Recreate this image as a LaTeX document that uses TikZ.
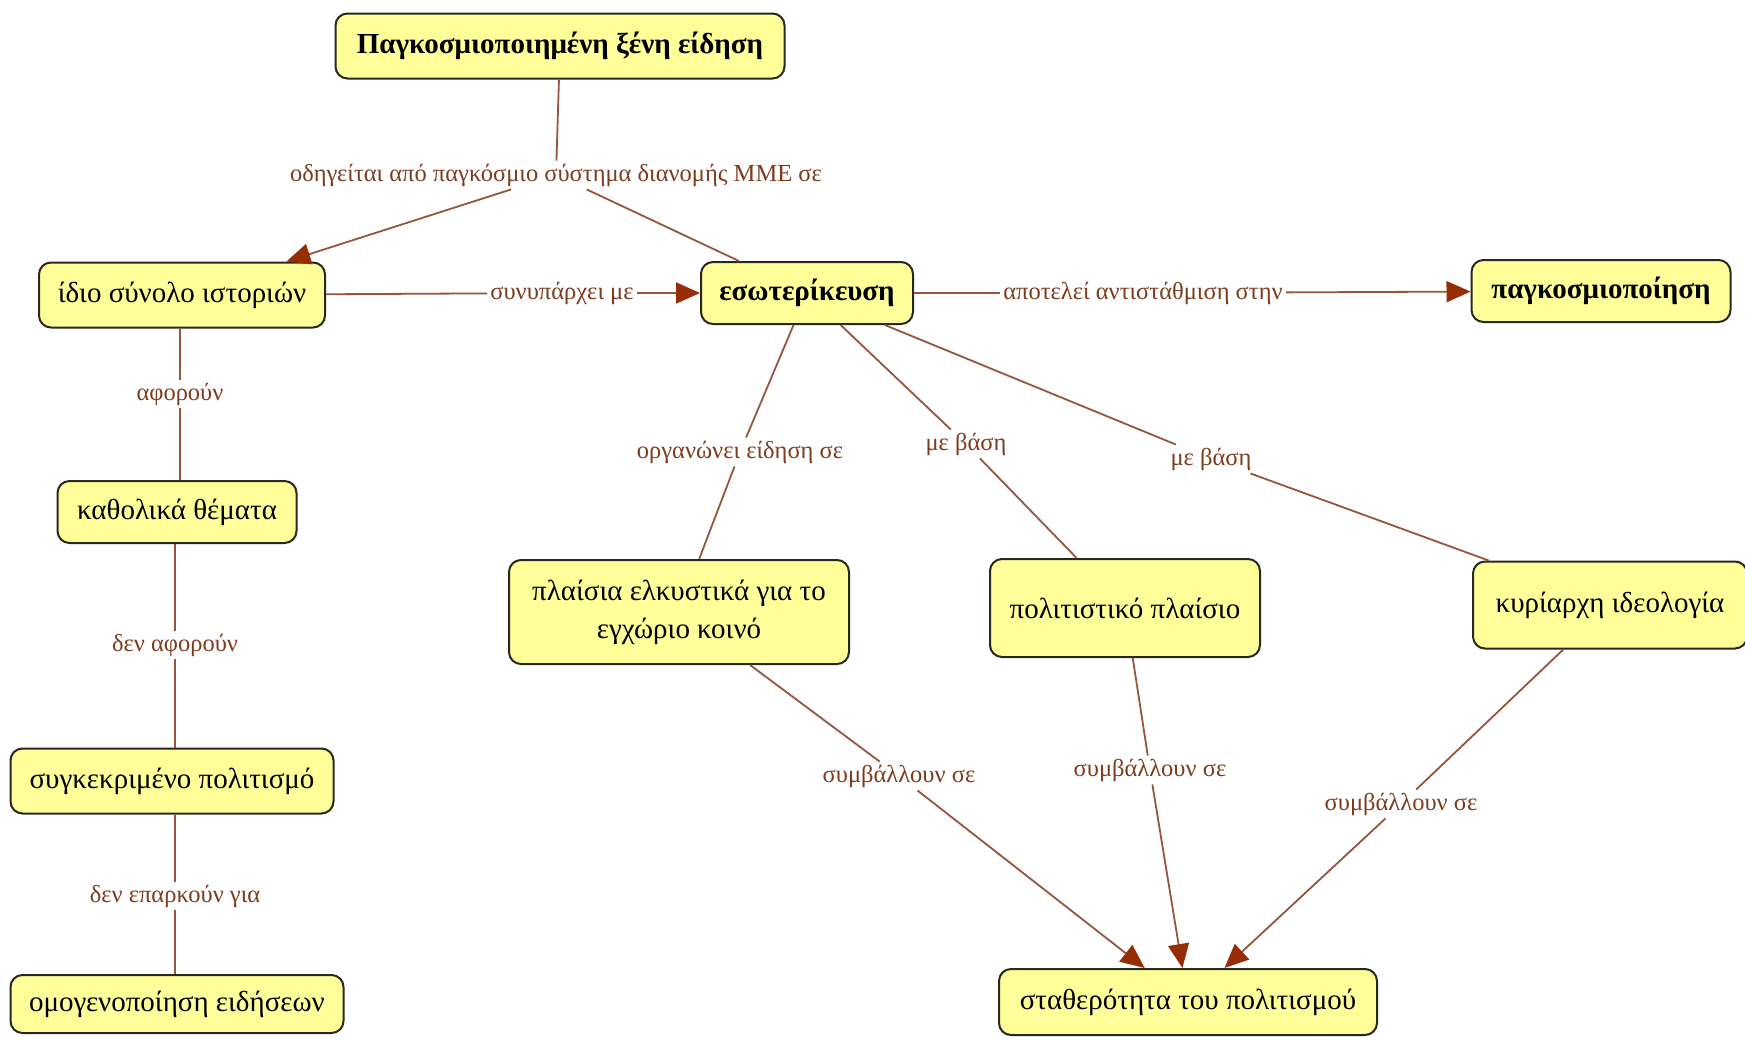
\documentclass[tikz,border=0pt]{standalone}
\usepackage{fontspec}
\setmainfont{Liberation Serif}
\usetikzlibrary{arrows.meta}
\definecolor{boxfill}{RGB}{255,255,153}
\definecolor{boxline}{RGB}{40,40,30}
\definecolor{linkcol}{RGB}{150,85,60}
\definecolor{labcol}{RGB}{125,60,30}
\definecolor{tipcol}{RGB}{150,45,5}
\tikzset{
  concept/.style={draw=boxline, line width=2pt, fill=boxfill, rounded corners=12pt,
    align=center, inner sep=4pt, font=\fontsize{29}{38}\selectfont, text=black},
  boldconcept/.style={concept, font=\fontsize{29}{38}\selectfont\bfseries},
  linklabel/.style={inner sep=3pt, text=labcol, font=\fontsize{24.5}{28}\selectfont},
  link/.style={draw=linkcol, line width=1.8pt},
  arrowlink/.style={link, -{Triangle[length=24pt,width=21pt,color=tipcol]}}
}
\begin{document}
\begin{tikzpicture}[x=1pt,y=-1pt]
\useasboundingbox (0,0) rectangle (1745,1039);
% concepts
\node[boldconcept, minimum width=449pt, minimum height=65pt] (top) at (560,46) {Παγκοσμιοποιημένη ξένη είδηση};
\node[concept, minimum width=286pt, minimum height=65pt] (ido) at (182,295) {ίδιο σύνολο ιστοριών};
\node[boldconcept, minimum width=212pt, minimum height=62pt] (eso) at (807,293) {εσωτερίκευση};
\node[boldconcept, minimum width=259pt, minimum height=62pt] (pag) at (1601,291) {παγκοσμιοποίηση};
\node[concept, minimum width=239pt, minimum height=62pt] (kath) at (177,512) {καθολικά θέματα};
\node[concept, minimum width=323pt, minimum height=65pt] (synk) at (172,781) {συγκεκριμένο πολιτισμό};
\node[concept, minimum width=333pt, minimum height=58pt] (omog) at (177,1004) {ομογενοποίηση ειδήσεων};
\node[concept, minimum width=340pt, minimum height=104pt] (plai) at (679,612) {πλαίσια ελκυστικά για το\\εγχώριο κοινό};
\node[concept, minimum width=270pt, minimum height=98pt] (polit) at (1125,608) {πολιτιστικό πλαίσιο};
\node[concept, minimum width=274pt, minimum height=87pt] (kyr) at (1610,605) {κυρίαρχη ιδεολογία};
\node[concept, minimum width=378pt, minimum height=66pt] (stath) at (1188,1002) {σταθερότητα του πολιτισμού};
% link labels
\node[linklabel] (l1) at (556,175) {οδηγείται από παγκόσμιο σύστημα διανομής ΜΜΕ σε};
\node[linklabel] (l2) at (562,293) {συνυπάρχει με};
\node[linklabel] (l3) at (1143,293) {αποτελεί αντιστάθμιση στην};
\node[linklabel] (l4) at (180,394) {αφορούν};
\node[linklabel] (l5) at (175,645) {δεν αφορούν};
\node[linklabel] (l6) at (175,896) {δεν επαρκούν για};
\node[linklabel] (l7) at (740,452) {οργανώνει είδηση σε};
\node[linklabel] (l8) at (966,444) {με βάση};
\node[linklabel] (l9) at (1211,459) {με βάση};
\node[linklabel] (l10) at (899,776) {συμβάλλουν σε};
\node[linklabel] (l11) at (1150,770) {συμβάλλουν σε};
\node[linklabel] (l12) at (1401,804) {συμβάλλουν σε};
% connectors
\draw[link] (top) -- (l1);
\draw[arrowlink] (l1) -- (ido);
\draw[link] (l1) -- (eso);
\draw[link] (ido) -- (l2);
\draw[arrowlink] (l2) -- (eso);
\draw[link] (eso) -- (l3);
\draw[arrowlink] (l3) -- (pag);
\draw[link] (l4 |- ido.south) -- (l4) -- (l4 |- kath.north);
\draw[link] (l5 |- kath.south) -- (l5) -- (l5 |- synk.north);
\draw[link] (l6 |- synk.south) -- (l6) -- (l6 |- omog.north);
\draw[link] (eso) -- (l7) -- (plai);
\draw[link] (eso) -- (l8) -- (polit);
\draw[link] (eso) -- (l9) -- (kyr);
\draw[link] (plai) -- (l10);
\draw[arrowlink] (l10) -- (stath);
\draw[link] (polit) -- (l11);
\draw[arrowlink] (l11) -- (stath);
\draw[link] (kyr) -- (l12);
\draw[arrowlink] (l12) -- (stath);
\end{tikzpicture}
\end{document}
